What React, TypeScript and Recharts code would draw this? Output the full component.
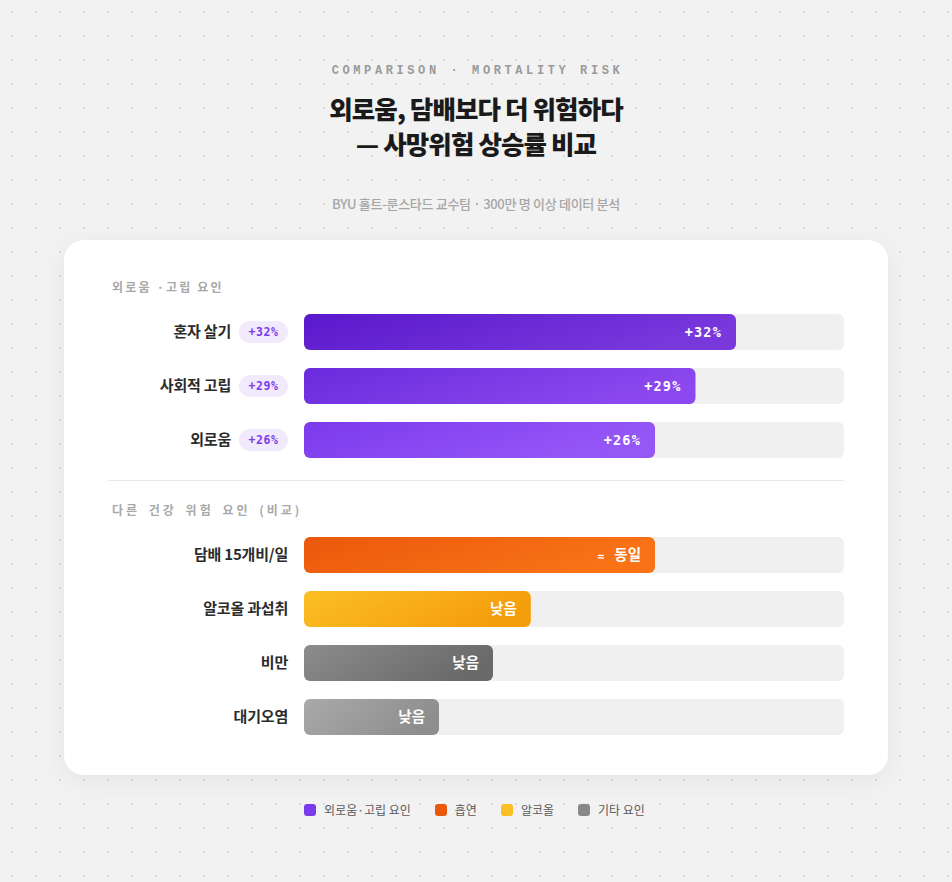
import React from 'react';
import { BarChart, Bar, XAxis, YAxis, Cell, LabelList } from 'recharts';

const lonelinessCategories = ['혼자 살기', '사회적 고립', '외로움'];
const lonelinessValues = [32, 29, 26];
const lonelinessLabels = ['+32%', '+29%', '+26%'];

const otherCategories = ['담배 15개비/일', '알코올 과섭취', '비만', '대기오염'];
const otherValues = [26, 16.8, 14, 10];
const otherLabels = ['≈ 동일', '낮음', '낮음', '낮음'];

const lonelinessGradients = [
  ['#5a18cc', '#7838dc'],
  ['#6a2bdd', '#8c48ee'],
  ['#7c3aed', '#9657f7'],
];
const otherGradients = [
  ['#ea580c', '#f97316'],
  ['#fbbf24', '#f59e0b'],
  ['#8c8c8c', '#6a6a6a'],
  ['#aaaaaa', '#8e8e8e'],
];

const legendNames = ['외로움·고립 요인', '흡연', '알코올', '기타 요인'];
const legendColors = ['#7c3aed', '#ea580c', '#fbbf24', '#888888'];

const SANS = '"Noto Sans CJK KR", "Noto Sans", sans-serif';
const MONO = '"DejaVu Sans Mono", "Liberation Mono", monospace';

const lonelinessData = lonelinessCategories.map((name, i) => ({
  name,
  value: lonelinessValues[i],
  label: lonelinessLabels[i],
}));
const otherData = otherCategories.map((name, i) => ({
  name,
  value: otherValues[i],
  label: otherLabels[i],
}));

const CHART_W = 736;
const AXIS_W = 196;
const ROW = 54;

function makeTick(withPill: boolean, data: { name: string; label: string }[]) {
  return (props: any) => {
    const { x, y, payload } = props;
    const row = data.find((d) => d.name === payload.value);
    if (withPill && row) {
      const pw = 49;
      return (
        <g>
          <text
            x={x - pw - 8}
            y={y}
            dy={5}
            textAnchor="end"
            fontFamily={SANS}
            fontWeight={700}
            fontSize={15}
            fill="#2b2b2b"
            letterSpacing={-0.2}
          >
            {payload.value}
          </text>
          <rect x={x - pw} y={y - 11} width={pw} height={22} rx={11} fill="#f1eafd" />
          <text
            x={x - pw / 2}
            y={y}
            dy={4}
            textAnchor="middle"
            fontFamily={MONO}
            fontWeight={700}
            fontSize={11.5}
            fill="#7c3aed"
            letterSpacing={0.6}
          >
            {row.label}
          </text>
        </g>
      );
    }
    return (
      <text
        x={x}
        y={y}
        dy={5}
        textAnchor="end"
        fontFamily={SANS}
        fontWeight={700}
        fontSize={15}
        fill="#2b2b2b"
        letterSpacing={-0.2}
      >
        {payload.value}
      </text>
    );
  };
}

const BarLabel = (props: any) => {
  const { x, y, width, height, value } = props;
  const tx = x + width - 14;
  const ty = y + height / 2;
  const s = String(value);
  if (s.startsWith('+')) {
    return (
      <text
        x={tx}
        y={ty}
        dy={5}
        textAnchor="end"
        fontFamily={MONO}
        fontWeight={700}
        fontSize={13.5}
        fill="#ffffff"
        letterSpacing={1.2}
      >
        {s}
      </text>
    );
  }
  if (s.startsWith('≈')) {
    return (
      <text x={tx} y={ty} dy={5} textAnchor="end" fill="#ffffff" fontWeight={700}>
        <tspan fontFamily={MONO} fontSize={11}>≈</tspan>
        <tspan fontFamily={SANS} fontSize={14.5} dx={10}>{s.slice(1).trim()}</tspan>
      </text>
    );
  }
  return (
    <text
      x={tx}
      y={ty}
      dy={5}
      textAnchor="end"
      fontFamily={SANS}
      fontWeight={700}
      fontSize={14.5}
      fill="#ffffff"
    >
      {s}
    </text>
  );
};

function Group({
  data,
  gradients,
  idPrefix,
  withPill,
}: {
  data: { name: string; value: number; label: string }[];
  gradients: string[][];
  idPrefix: string;
  withPill: boolean;
}) {
  return (
    <BarChart
      width={CHART_W}
      height={ROW * data.length}
      data={data}
      layout="vertical"
      margin={{ top: 0, right: 0, bottom: 0, left: 0 }}
      barSize={36}
    >
      <defs>
        {gradients.map((g, i) => (
          <linearGradient key={i} id={`${idPrefix}${i}`} x1="0" y1="0" x2="1" y2="0.3">
            <stop offset="0%" stopColor={g[0]} />
            <stop offset="100%" stopColor={g[1]} />
          </linearGradient>
        ))}
      </defs>
      <XAxis type="number" domain={[0, 40]} hide />
      <YAxis
        type="category"
        dataKey="name"
        width={AXIS_W}
        axisLine={false}
        tickLine={false}
        tickSize={0}
        tickMargin={16}
        tick={makeTick(withPill, data)}
        interval={0}
      />
      <Bar
        dataKey="value"
        radius={6}
        background={{ fill: '#f0f0f0', radius: 6 }}
        isAnimationActive={false}
      >
        {data.map((_, i) => (
          <Cell key={i} fill={`url(#${idPrefix}${i})`} />
        ))}
        <LabelList dataKey="label" content={<BarLabel />} />
      </Bar>
    </BarChart>
  );
}

const sectionStyle: React.CSSProperties = {
  position: 'absolute',
  left: 48,
  fontFamily: SANS,
  fontWeight: 700,
  fontSize: 12,
  color: '#a8a8a8',
  letterSpacing: 2.2,
  lineHeight: '16px',
  whiteSpace: 'nowrap',
};

export default function App() {
  return (
    <div
      style={{
        position: 'absolute',
        left: 0,
        top: 0,
        width: 952,
        height: 882,
        overflow: 'hidden',
        backgroundColor: '#f2f2f2',
        backgroundImage: 'radial-gradient(circle at center, #dadada 1.1px, transparent 1.4px)',
        backgroundSize: '24px 24px',
        backgroundPosition: '0 0',
        fontFamily: SANS,
      }}
    >
      <div
        style={{
          position: 'absolute',
          top: 63,
          left: 0,
          width: 952,
          textAlign: 'center',
          fontFamily: '"Liberation Mono", monospace',
          fontWeight: 700,
          fontSize: 12,
          letterSpacing: 3.6,
          color: '#9a9a9a',
          lineHeight: '16px',
          paddingLeft: 3,
          boxSizing: 'border-box',
        }}
      >
        COMPARISON · MORTALITY RISK
      </div>
      <div
        style={{
          position: 'absolute',
          top: 90,
          left: 0,
          width: 952,
          textAlign: 'center',
          fontFamily: SANS,
          fontWeight: 800,
          fontSize: 25.5,
          letterSpacing: -0.9,
          color: '#1a1a1a',
          lineHeight: '35px',
        }}
      >
        외로움, 담배보다 더 위험하다
        <br />— 사망위험 상승률 비교
      </div>
      <div
        style={{
          position: 'absolute',
          top: 195,
          left: 0,
          width: 952,
          textAlign: 'center',
          fontFamily: SANS,
          fontWeight: 500,
          fontSize: 13,
          letterSpacing: -0.3,
          color: '#a6a6a6',
          lineHeight: '18px',
        }}
      >
        BYU 홀트-룬스타드 교수팀 · 300만 명 이상 데이터 분석
      </div>

      <div
        style={{
          position: 'absolute',
          left: 64,
          top: 240,
          width: 824,
          height: 535,
          background: '#ffffff',
          borderRadius: 20,
          boxShadow: '0 6px 28px rgba(0,0,0,0.06)',
        }}
      >
        <div style={{ ...sectionStyle, top: 39 }}>외로움 ·고립 요인</div>
        <div style={{ position: 'absolute', left: 44, top: 65 }}>
          <Group data={lonelinessData} gradients={lonelinessGradients} idPrefix="lg" withPill />
        </div>
        <div
          style={{
            position: 'absolute',
            left: 44,
            top: 240,
            width: 736,
            height: 1,
            background: '#e8e8e8',
          }}
        />
        <div style={{ ...sectionStyle, top: 262, letterSpacing: 3, wordSpacing: 3 }}>
          다른 건강 위험 요인 (비교)
        </div>
        <div style={{ position: 'absolute', left: 44, top: 288 }}>
          <Group data={otherData} gradients={otherGradients} idPrefix="og" withPill={false} />
        </div>
      </div>

      <div
        style={{
          position: 'absolute',
          top: 802,
          left: 0,
          width: 952,
          display: 'flex',
          justifyContent: 'center',
          gap: 24,
          fontFamily: SANS,
          fontSize: 12,
          color: '#5a5a5a',
          lineHeight: '16px',
          paddingRight: 3,
          boxSizing: 'border-box',
        }}
      >
        {legendNames.map((n, i) => (
          <div key={n} style={{ display: 'flex', alignItems: 'center', gap: 8 }}>
            <span
              style={{
                width: 12,
                height: 12,
                borderRadius: 3,
                background: legendColors[i],
                display: 'inline-block',
              }}
            />
            <span>{n}</span>
          </div>
        ))}
      </div>
    </div>
  );
}
